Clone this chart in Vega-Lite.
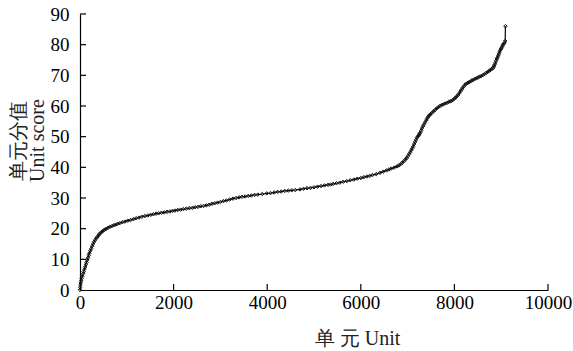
{
  "$schema": "https://vega.github.io/schema/vega-lite/v6.json",
  "width": 468,
  "height": 276,
  "autosize": {"type": "none"},
  "padding": {"left": 80, "top": 14, "right": 25, "bottom": 61},
  "background": "white",
  "config": {
    "view": {"stroke": null},
    "font": "Liberation Serif",
    "axis": {
      "grid": false,
      "domainColor": "#000",
      "domainWidth": 1.2,
      "ticks": false,
      "labelOverlap": false,
      "labelFont": "Liberation Serif",
      "labelFontSize": 19,
      "labelColor": "#000",
      "titleFont": "Liberation Serif",
      "titleFontSize": 20,
      "titleFontWeight": "normal",
      "titleColor": "#222"
    }
  },
  "datasets": {
    "curve": [
      {"unit": 0, "score": 0},
      {"unit": 5, "score": 0.8},
      {"unit": 10, "score": 1.6},
      {"unit": 15, "score": 2.3},
      {"unit": 25, "score": 3},
      {"unit": 35, "score": 3.8},
      {"unit": 50, "score": 4.5},
      {"unit": 65, "score": 5.3},
      {"unit": 80, "score": 6},
      {"unit": 95, "score": 6.8},
      {"unit": 110, "score": 7.5},
      {"unit": 125, "score": 8.3},
      {"unit": 140, "score": 9},
      {"unit": 155, "score": 9.8},
      {"unit": 170, "score": 10.5},
      {"unit": 185, "score": 11.3},
      {"unit": 200, "score": 12},
      {"unit": 220, "score": 12.8},
      {"unit": 240, "score": 13.5},
      {"unit": 260, "score": 14.3},
      {"unit": 280, "score": 15},
      {"unit": 300, "score": 15.7},
      {"unit": 320, "score": 16.3},
      {"unit": 345, "score": 16.8},
      {"unit": 370, "score": 17.3},
      {"unit": 395, "score": 17.8},
      {"unit": 420, "score": 18.3},
      {"unit": 445, "score": 18.7},
      {"unit": 470, "score": 19},
      {"unit": 500, "score": 19.4},
      {"unit": 530, "score": 19.7},
      {"unit": 565, "score": 20},
      {"unit": 600, "score": 20.3},
      {"unit": 640, "score": 20.6},
      {"unit": 680, "score": 20.8},
      {"unit": 720, "score": 21.1},
      {"unit": 760, "score": 21.3},
      {"unit": 805, "score": 21.6},
      {"unit": 850, "score": 21.8},
      {"unit": 905, "score": 22.1},
      {"unit": 960, "score": 22.3},
      {"unit": 1020, "score": 22.6},
      {"unit": 1080, "score": 22.8},
      {"unit": 1140, "score": 23.1},
      {"unit": 1200, "score": 23.4},
      {"unit": 1260, "score": 23.6},
      {"unit": 1320, "score": 23.9},
      {"unit": 1385, "score": 24.1},
      {"unit": 1450, "score": 24.3},
      {"unit": 1510, "score": 24.5},
      {"unit": 1570, "score": 24.7},
      {"unit": 1625, "score": 24.9},
      {"unit": 1680, "score": 25},
      {"unit": 1740, "score": 25.2},
      {"unit": 1800, "score": 25.3},
      {"unit": 1860, "score": 25.5},
      {"unit": 1920, "score": 25.6},
      {"unit": 1975, "score": 25.8},
      {"unit": 2030, "score": 25.9},
      {"unit": 2090, "score": 26.1},
      {"unit": 2150, "score": 26.2},
      {"unit": 2210, "score": 26.4},
      {"unit": 2270, "score": 26.5},
      {"unit": 2335, "score": 26.7},
      {"unit": 2400, "score": 26.8},
      {"unit": 2460, "score": 27},
      {"unit": 2520, "score": 27.1},
      {"unit": 2580, "score": 27.3},
      {"unit": 2640, "score": 27.4},
      {"unit": 2700, "score": 27.6},
      {"unit": 2760, "score": 27.8},
      {"unit": 2820, "score": 28.1},
      {"unit": 2880, "score": 28.3},
      {"unit": 2940, "score": 28.5},
      {"unit": 3000, "score": 28.7},
      {"unit": 3065, "score": 29},
      {"unit": 3130, "score": 29.2},
      {"unit": 3200, "score": 29.5},
      {"unit": 3270, "score": 29.8},
      {"unit": 3335, "score": 30},
      {"unit": 3400, "score": 30.2},
      {"unit": 3465, "score": 30.4},
      {"unit": 3530, "score": 30.5},
      {"unit": 3595, "score": 30.7},
      {"unit": 3660, "score": 30.8},
      {"unit": 3730, "score": 31},
      {"unit": 3800, "score": 31.1},
      {"unit": 3895, "score": 31.3},
      {"unit": 3990, "score": 31.5},
      {"unit": 4070, "score": 31.6},
      {"unit": 4150, "score": 31.8},
      {"unit": 4225, "score": 32},
      {"unit": 4300, "score": 32.1},
      {"unit": 4375, "score": 32.3},
      {"unit": 4450, "score": 32.4},
      {"unit": 4525, "score": 32.5},
      {"unit": 4600, "score": 32.6},
      {"unit": 4700, "score": 32.8},
      {"unit": 4775, "score": 33},
      {"unit": 4850, "score": 33.2},
      {"unit": 4925, "score": 33.3},
      {"unit": 5000, "score": 33.5},
      {"unit": 5075, "score": 33.7},
      {"unit": 5150, "score": 33.9},
      {"unit": 5225, "score": 34.1},
      {"unit": 5300, "score": 34.3},
      {"unit": 5355, "score": 34.4},
      {"unit": 5410, "score": 34.6},
      {"unit": 5480, "score": 34.8},
      {"unit": 5550, "score": 35},
      {"unit": 5625, "score": 35.3},
      {"unit": 5700, "score": 35.5},
      {"unit": 5775, "score": 35.8},
      {"unit": 5850, "score": 36},
      {"unit": 5925, "score": 36.3},
      {"unit": 6000, "score": 36.5},
      {"unit": 6065, "score": 36.8},
      {"unit": 6130, "score": 37},
      {"unit": 6190, "score": 37.2},
      {"unit": 6250, "score": 37.5},
      {"unit": 6330, "score": 37.8},
      {"unit": 6410, "score": 38.2},
      {"unit": 6480, "score": 38.6},
      {"unit": 6550, "score": 39},
      {"unit": 6600, "score": 39.3},
      {"unit": 6650, "score": 39.6},
      {"unit": 6710, "score": 39.9},
      {"unit": 6770, "score": 40.3},
      {"unit": 6810, "score": 40.6},
      {"unit": 6850, "score": 41},
      {"unit": 6885, "score": 41.5},
      {"unit": 6920, "score": 42},
      {"unit": 6950, "score": 42.5},
      {"unit": 6980, "score": 43},
      {"unit": 7005, "score": 43.6},
      {"unit": 7030, "score": 44.3},
      {"unit": 7055, "score": 44.9},
      {"unit": 7080, "score": 45.6},
      {"unit": 7100, "score": 46.2},
      {"unit": 7120, "score": 46.8},
      {"unit": 7140, "score": 47.6},
      {"unit": 7160, "score": 48.3},
      {"unit": 7180, "score": 49},
      {"unit": 7200, "score": 49.7},
      {"unit": 7220, "score": 50.1},
      {"unit": 7240, "score": 50.5},
      {"unit": 7255, "score": 50.9},
      {"unit": 7270, "score": 51.3},
      {"unit": 7290, "score": 52},
      {"unit": 7310, "score": 52.8},
      {"unit": 7330, "score": 53.4},
      {"unit": 7350, "score": 54},
      {"unit": 7375, "score": 54.7},
      {"unit": 7400, "score": 55.4},
      {"unit": 7420, "score": 56},
      {"unit": 7440, "score": 56.5},
      {"unit": 7460, "score": 56.9},
      {"unit": 7480, "score": 57.2},
      {"unit": 7515, "score": 57.7},
      {"unit": 7550, "score": 58.2},
      {"unit": 7585, "score": 58.7},
      {"unit": 7620, "score": 59.2},
      {"unit": 7655, "score": 59.6},
      {"unit": 7690, "score": 60},
      {"unit": 7725, "score": 60.3},
      {"unit": 7760, "score": 60.5},
      {"unit": 7800, "score": 60.8},
      {"unit": 7840, "score": 61},
      {"unit": 7875, "score": 61.3},
      {"unit": 7910, "score": 61.5},
      {"unit": 7940, "score": 61.7},
      {"unit": 7970, "score": 62},
      {"unit": 8000, "score": 62.4},
      {"unit": 8030, "score": 62.8},
      {"unit": 8055, "score": 63.2},
      {"unit": 8080, "score": 63.6},
      {"unit": 8105, "score": 64.2},
      {"unit": 8130, "score": 64.8},
      {"unit": 8155, "score": 65.4},
      {"unit": 8180, "score": 66},
      {"unit": 8205, "score": 66.5},
      {"unit": 8230, "score": 67},
      {"unit": 8260, "score": 67.3},
      {"unit": 8290, "score": 67.6},
      {"unit": 8315, "score": 67.8},
      {"unit": 8340, "score": 68},
      {"unit": 8370, "score": 68.3},
      {"unit": 8400, "score": 68.5},
      {"unit": 8435, "score": 68.8},
      {"unit": 8470, "score": 69},
      {"unit": 8505, "score": 69.3},
      {"unit": 8540, "score": 69.6},
      {"unit": 8575, "score": 69.8},
      {"unit": 8610, "score": 70.1},
      {"unit": 8645, "score": 70.4},
      {"unit": 8680, "score": 70.8},
      {"unit": 8710, "score": 71.1},
      {"unit": 8740, "score": 71.4},
      {"unit": 8765, "score": 71.7},
      {"unit": 8790, "score": 72},
      {"unit": 8810, "score": 72.2},
      {"unit": 8830, "score": 72.5},
      {"unit": 8845, "score": 73},
      {"unit": 8860, "score": 73.5},
      {"unit": 8875, "score": 74.1},
      {"unit": 8890, "score": 74.8},
      {"unit": 8905, "score": 75.3},
      {"unit": 8920, "score": 75.8},
      {"unit": 8935, "score": 76.4},
      {"unit": 8950, "score": 77},
      {"unit": 8965, "score": 77.6},
      {"unit": 8980, "score": 78.2},
      {"unit": 8995, "score": 78.6},
      {"unit": 9010, "score": 79},
      {"unit": 9025, "score": 79.5},
      {"unit": 9040, "score": 80},
      {"unit": 9055, "score": 80.3},
      {"unit": 9070, "score": 80.6},
      {"unit": 9085, "score": 81.2},
      {"unit": 9090, "score": 86}
    ],
    "xticks": [
      {"unit": 2000, "score": 0},
      {"unit": 4000, "score": 0},
      {"unit": 6000, "score": 0},
      {"unit": 8000, "score": 0},
      {"unit": 10000, "score": 0}
    ],
    "yticks": [
      {"unit": 0, "score": 10},
      {"unit": 0, "score": 20},
      {"unit": 0, "score": 30},
      {"unit": 0, "score": 40},
      {"unit": 0, "score": 50},
      {"unit": 0, "score": 60},
      {"unit": 0, "score": 70},
      {"unit": 0, "score": 80},
      {"unit": 0, "score": 90}
    ]
  },
  "encoding": {
    "x": {
      "field": "unit",
      "type": "quantitative",
      "scale": {"domain": [0, 10000], "nice": false},
      "axis": {
        "values": [0, 2000, 4000, 6000, 8000, 10000],
        "format": "d",
        "labelFlush": false,
        "labelOverlap": false,
        "labelFont": "Liberation Serif",
        "labelFontSize": 19,
        "labelPadding": 3,
        "title": "单 元 Unit",
        "titleFont": "Liberation Serif",
        "titleX": 277,
        "titleY": 38,
        "titleAlign": "center",
        "titleBaseline": "top"
      }
    },
    "y": {
      "field": "score",
      "type": "quantitative",
      "scale": {"domain": [0, 90], "nice": false},
      "axis": {
        "values": [0, 10, 20, 30, 40, 50, 60, 70, 80, 90],
        "format": "d",
        "labelFlush": false,
        "labelOverlap": false,
        "labelFont": "Liberation Serif",
        "labelFontSize": 19,
        "labelPadding": 11,
        "title": ["单元分值", "Unit score"],
        "titleFont": "Liberation Serif",
        "titleAngle": -90,
        "titleX": -72,
        "titleY": 126,
        "titleAlign": "center",
        "titleBaseline": "top",
        "titleLineHeight": 19
      }
    }
  },
  "layer": [
    {
      "data": {"name": "curve"},
      "mark": {"type": "line", "color": "#000", "strokeWidth": 1.2}
    },
    {
      "data": {"name": "curve"},
      "mark": {"type": "point", "shape": "diamond", "filled": false, "color": "#111", "size": 12, "strokeWidth": 1, "opacity": 1}
    },
    {
      "data": {"name": "xticks"},
      "mark": {"type": "point", "shape": "M-0.1,-1L0.1,-1L0.1,0L-0.1,0Z", "filled": true, "color": "#000", "size": 144, "opacity": 1}
    },
    {
      "data": {"name": "yticks"},
      "mark": {"type": "point", "shape": "M0,-0.1L1,-0.1L1,0.1L0,0.1Z", "filled": true, "color": "#000", "size": 144, "opacity": 1}
    }
  ]
}
